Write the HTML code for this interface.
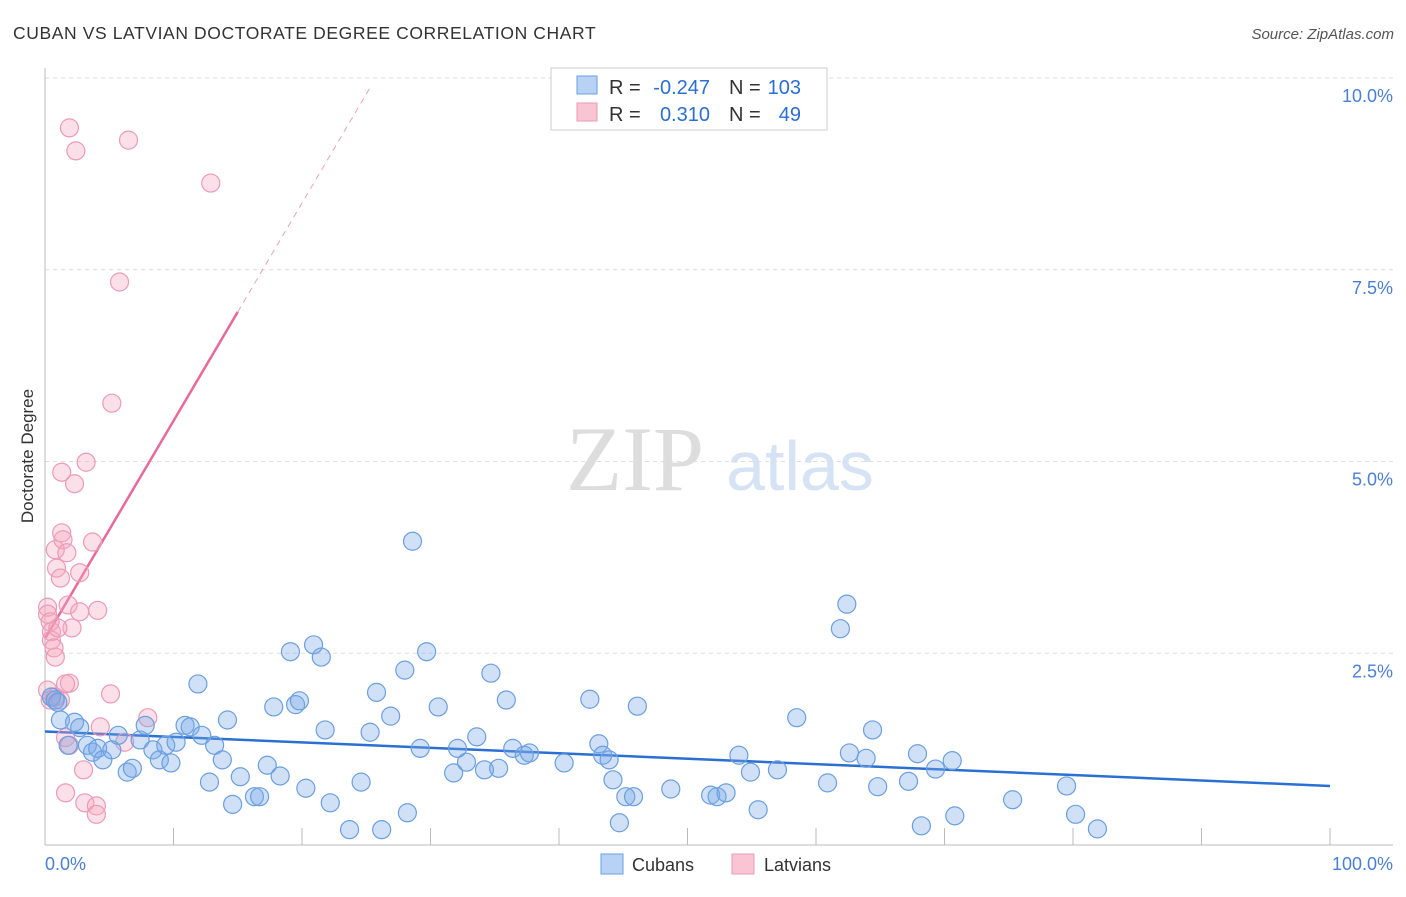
<!DOCTYPE html>
<html><head><meta charset="utf-8"><style>
body{margin:0;background:#fff;font-family:"Liberation Sans",sans-serif;}
</style></head><body>
<svg width="1406" height="892" viewBox="0 0 1406 892" font-family="Liberation Sans, sans-serif">
<text x="13" y="39" font-size="17.5" letter-spacing="0.6" fill="#333">CUBAN VS LATVIAN DOCTORATE DEGREE CORRELATION CHART</text>
<text x="1394" y="39" font-size="15" fill="#555" font-style="italic" text-anchor="end">Source: ZipAtlas.com</text>
<text x="635" y="490" font-size="92" fill="#ddd" style="font-family:'Liberation Serif',serif" text-anchor="middle">ZIP</text>
<text x="800" y="490" font-size="70" fill="#d5e3f5" text-anchor="middle">atlas</text>
<g id="grid"></g><g id="axes"></g><g id="trends"></g><g id="pts"></g>
<text transform="translate(33,456) rotate(-90)" font-size="17" fill="#333" text-anchor="middle">Doctorate Degree</text>
<text x="45" y="870" font-size="18" fill="#4a7fd4">0.0%</text>
<text x="1393" y="870" font-size="18" fill="#4a7fd4" text-anchor="end">100.0%</text>
<g>
<rect x="551" y="68" width="276" height="62" fill="#fff" stroke="#ccc"/>
<rect x="577" y="76" width="20" height="18" fill="#b8d2f5" stroke="#6a9fe0"/>
<rect x="577" y="103" width="20" height="18" fill="#f9c5d5" stroke="#ec9ab5"/>
<text x="609" y="94" font-size="20" fill="#333">R =</text>
<text x="710" y="94" font-size="20" fill="#2a6fd4" text-anchor="end">-0.247</text>
<text x="729" y="94" font-size="20" fill="#333">N =</text>
<text x="801" y="94" font-size="20" fill="#2a6fd4" text-anchor="end">103</text>
<text x="609" y="121" font-size="20" fill="#333">R =</text>
<text x="710" y="121" font-size="20" fill="#2a6fd4" text-anchor="end">0.310</text>
<text x="729" y="121" font-size="20" fill="#333">N =</text>
<text x="801" y="121" font-size="20" fill="#2a6fd4" text-anchor="end">49</text>
</g>
<g>
<rect x="601" y="854" width="22" height="20" fill="#b8d2f5" stroke="#6a9fe0"/>
<text x="632" y="871" font-size="18" fill="#333">Cubans</text>
<rect x="732" y="854" width="22" height="20" fill="#f9c5d5" stroke="#ec9ab5"/>
<text x="764" y="871" font-size="18" fill="#333">Latvians</text>
</g>
</svg>
<script>
const yTicks=[2.5,5,7.5,10];
const yTickLabels=["2.5%","5.0%","7.5%","10.0%"];
const xTicks=[0,10,20,30,40,50,60,70,80,90,100];
const cubanX=[0.5,0.8,1.2,1.0,1.8,2.3,2.7,3.3,3.7,4.1,4.5,5.2,5.7,6.4,6.8,7.4,7.8,8.4,8.9,9.4,9.8,10.2,10.9,11.3,11.9,12.2,12.8,13.2,13.8,14.2,14.6,15.2,16.3,16.7,17.3,17.8,18.3,19.1,19.5,19.8,20.3,20.9,21.5,21.8,22.2,23.7,24.6,25.3,25.8,26.2,26.9,28.0,28.2,28.6,29.2,29.7,30.6,31.8,32.1,32.8,33.6,34.2,34.7,35.3,35.9,36.4,37.3,37.7,40.4,42.4,43.1,43.4,43.9,44.2,44.7,45.2,45.8,46.1,48.7,51.8,52.3,53.0,54.0,54.9,55.5,57.0,58.5,60.9,61.9,62.4,62.6,63.9,64.4,64.8,67.2,67.9,68.2,69.3,70.6,70.8,75.3,79.5,80.2,81.9];
const cubanY=[1.93,1.89,1.63,1.86,1.30,1.60,1.53,1.30,1.21,1.26,1.11,1.24,1.43,0.95,1.00,1.37,1.56,1.24,1.11,1.30,1.07,1.34,1.56,1.54,2.10,1.43,0.82,1.30,1.11,1.63,0.53,0.89,0.63,0.63,1.04,1.80,0.90,2.52,1.83,1.88,0.74,2.61,2.45,1.50,0.55,0.20,0.82,1.47,1.99,0.20,1.68,2.28,0.42,3.96,1.26,2.52,1.80,0.94,1.26,1.08,1.41,0.98,2.24,1.00,1.89,1.26,1.17,1.20,1.07,1.90,1.32,1.17,1.11,0.85,0.29,0.63,0.63,1.81,0.73,0.65,0.63,0.68,1.17,0.95,0.46,0.98,1.66,0.81,2.82,3.14,1.20,1.13,1.50,0.76,0.83,1.19,0.25,0.99,1.10,0.38,0.59,0.77,0.40,0.21];
const latvianX=[0.2,0.2,0.4,0.5,0.5,0.7,0.8,0.8,0.9,1.2,1.3,1.3,1.4,1.7,1.8,1.9,1.9,2.1,2.4,2.3,2.7,2.7,3.2,3.7,4.1,5.2,5.8,6.5,12.9,0.2,0.4,1.2,0.8,1.6,1.9,1.6,3.0,1.6,3.1,4.0,4.0,4.3,5.1,6.2,8.0,1.0];
const latvianY=[3.10,3.01,2.91,2.78,2.67,2.57,2.45,3.85,3.61,3.48,4.86,4.07,3.98,3.81,3.13,9.35,2.11,2.83,9.05,4.71,3.55,3.04,4.99,3.95,3.06,5.76,7.34,9.19,8.63,2.02,1.89,1.89,1.93,1.40,1.30,2.10,0.98,0.68,0.55,0.51,0.40,1.54,1.97,1.34,1.66,2.83];
const cubanTrend=[1.48,0.77];
const latvianTrend=[2.69,0.284];
const NS="http://www.w3.org/2000/svg";
const X=v=>45+v*12.85, Y=v=>845-v*76.7;
function mk(tag,attrs,parent){const e=document.createElementNS(NS,tag);for(const k in attrs)e.setAttribute(k,attrs[k]);document.getElementById(parent).appendChild(e);return e;}
yTicks.forEach((t,i)=>{
 const l=mk('line',{x1:45,x2:1393,y1:Y(t),y2:Y(t),stroke:'#ddd','stroke-dasharray':'4,4'},'grid');
 
 
 const tx=mk('text',{x:1393,y:Y(t)+24,'font-size':18,fill:'#4a7fd4','text-anchor':'end'},'grid');
 tx.textContent=yTickLabels[i];
 
 
});
const ya=mk('line',{x1:45,x2:45,y1:68,y2:845,stroke:'#bbb'},'axes');


const xa=mk('line',{x1:45,x2:1393,y1:845,y2:845,stroke:'#bbb'},'axes');


xTicks.forEach(t=>{
 const l=mk('line',{x1:X(t),x2:X(t),y1:828,y2:845,stroke:'#bbb'},'axes');
 
 
});
function dot(x,y,fill,stroke,name){
 const c=mk('circle',{cx:X(x),cy:Y(y),r:9,fill:fill,stroke:stroke,'stroke-width':1.2},'pts');
 
 
}
latvianX.forEach((x,i)=>dot(x,latvianY[i],'rgba(245,165,192,0.35)','#ec9ab5','latvian-point'));
cubanX.forEach((x,i)=>dot(x,cubanY[i],'rgba(120,170,232,0.35)','#6a9fe0','cuban-point'));
const ct=mk('line',{x1:X(0),y1:Y(cubanTrend[0]),x2:X(100),y2:Y(cubanTrend[1]),stroke:'#2a6fd4','stroke-width':2.5},'trends');


const lt=mk('line',{x1:X(0),y1:Y(latvianTrend[0]),x2:X(15),y2:Y(latvianTrend[0]+latvianTrend[1]*15),stroke:'#e8699a','stroke-width':2.5},'trends');


const ld=mk('line',{x1:X(15),y1:Y(latvianTrend[0]+latvianTrend[1]*15),x2:X(25.3),y2:Y(latvianTrend[0]+latvianTrend[1]*25.3),stroke:'#eba0bb','stroke-width':1,'stroke-dasharray':'6,5'},'trends');


</script>
</body></html>
